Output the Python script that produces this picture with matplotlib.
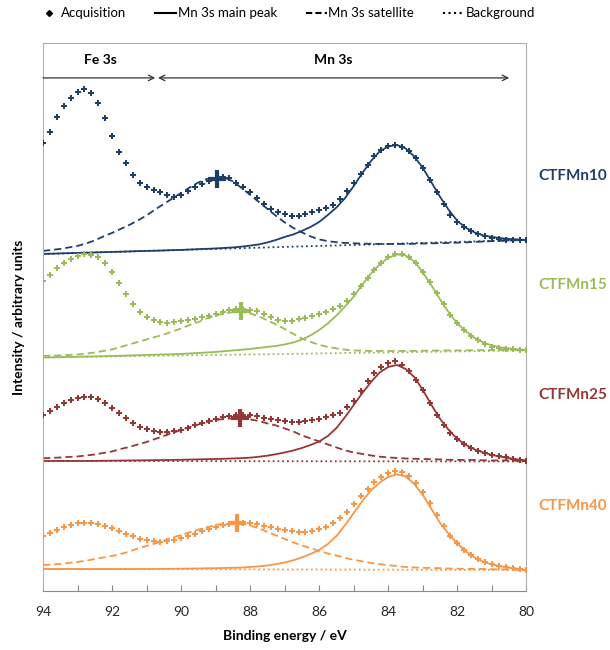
import numpy as np
import matplotlib.pyplot as plt
from matplotlib.lines import Line2D
from matplotlib.transforms import blended_transform_factory

plt.rcParams['font.family'] = ['Lato', 'DejaVu Sans']

# binding energy grids (eV)
energy_acq = np.round(np.arange(94.0, 79.95, -0.2), 2)
energy_fit = np.round(np.arange(94.0, 79.95, -0.25), 2)
energy_bg = [94.0, 80.0]

samples = ['CTFMn10', 'CTFMn15', 'CTFMn25', 'CTFMn40']

# measured spectra (arb. units, above each baseline)
acq_mn10 = [111, 122, 137, 148, 156, 162, 165, 161, 151, 136,
            118, 102, 91, 79, 71, 67, 64, 62, 59, 57,
            59, 63, 67, 70, 73, 76, 77, 76, 71, 67,
            62, 56, 50, 45, 42, 40, 38, 38, 40, 42,
            44, 46, 49, 55, 63, 71, 80, 89, 98, 104,
            108, 109, 107, 103, 96, 86, 74, 62, 50, 39,
            32, 27, 23, 20, 18, 16, 15, 14, 14, 14,
            14]
acq_mn15 = [76, 82, 89, 94, 98, 101, 103.5, 102.5, 100.8, 94,
            85, 74, 63, 53, 45, 40, 37, 35, 34, 35,
            36, 37, 38, 40, 41, 43, 45, 47, 48, 48,
            47, 46, 43, 40, 37, 36, 36, 38, 39, 41,
            43, 45, 48, 51, 56, 63, 71, 79, 87, 94,
            100, 103, 103, 100, 94, 85, 75, 64, 53, 42,
            34, 27, 21, 17, 13, 10, 9, 8, 8, 7.5,
            7.5]
acq_mn25 = [46, 50, 54, 58, 61, 63, 64, 63.5, 61.5, 58,
            53, 48, 43, 38, 34, 32, 30, 29, 29, 30,
            31, 33, 35.5, 37.5, 39.5, 41.5, 43.5, 45, 46, 46,
            45.5, 44.5, 43, 42, 40.5, 39.5, 39, 38.7, 39.5, 40.5,
            42, 43.5, 45.5, 48, 54, 60, 70, 80, 88, 94,
            98, 99.5, 96, 90, 81, 71, 58, 46, 36, 28,
            22, 17, 13, 9.5, 7.5, 6, 4.5, 3.5, 2, 1,
            0]
acq_mn40 = [33, 36, 39, 41.5, 44, 45.5, 46.3, 46, 45, 43,
            41, 38, 35, 32.5, 30, 28.5, 27.5, 26.8, 27.5, 29,
            31, 33, 35, 37.5, 40, 42, 43.5, 45, 45.5, 45.7,
            45.5, 44.5, 43, 41.5, 40.3, 39, 38, 37.3, 37.3, 38,
            40, 42.3, 46, 51, 57, 65, 73, 80, 86.5, 92,
            95.5, 97.8, 97, 92.5, 86, 77, 66, 54, 43, 33,
            25.5, 19, 14, 10, 7, 5, 3, 2, 1, 0,
            -1]

# fitted Mn 3s main peak (with background), 0.25 eV steps
main_mn10 = [0, 0.2, 0.5, 0.8, 1, 1.2, 1.5, 1.8,
             2, 2.2, 2.5, 2.8, 3, 3.2, 3.5, 3.8,
             4, 4.4, 4.8, 5.1, 5.5, 6, 6.5, 7.3,
             8.3, 9.5, 11.5, 14, 17, 19.5, 23, 27,
             32, 39, 46.5, 56, 68, 81, 93, 102.5,
             107.5, 109, 105.5, 97.5, 86, 71.5, 57, 44,
             33, 26, 21.5, 18.5, 17, 15.8, 15, 14.5,
             14]
main_mn15 = [0, 0.1, 0.3, 0.5, 0.7, 0.9, 1, 1.2,
             1.5, 1.7, 2, 2.2, 2.5, 2.7, 3, 3.2,
             3.5, 4, 4.5, 5, 5.5, 6.2, 7, 7.7,
             8.5, 9.5, 10.5, 11.5, 13, 15, 18, 22,
             27.5, 34, 42, 51, 61, 73, 84, 93,
             99.5, 103, 102, 96, 85, 72, 58, 45,
             34, 26, 19.5, 15, 12, 10, 9, 8,
             7.5]
main_mn25 = [0, 0, 0, 0, 0, 0, 0.1, 0.2,
             0.3, 0.4, 0.5, 0.6, 0.7, 0.8, 0.9, 1,
             1.2, 1.4, 1.6, 1.8, 2, 2.2, 2.5, 2.8,
             3.3, 4.2, 5.3, 6.8, 8.5, 10.5, 13, 16,
             19.5, 25, 33, 44, 56, 68, 79, 88.5,
             94, 96, 92, 84, 71, 56, 42, 31,
             22, 16, 11.5, 8.5, 6, 4.3, 2.8, 1.5,
             0.5]
main_mn40 = [0, 0, 0, 0, 0, 0, 0, 0,
             0, 0, 0, 0, 0, 0, 0.1, 0.2,
             0.3, 0.4, 0.5, 0.7, 0.8, 1, 1.2, 1.4,
             2, 2.6, 3.5, 4.8, 6.5, 8.8, 11.5, 15,
             19, 25, 33, 44, 56, 68, 78.5, 86.5,
             92, 94.7, 92.5, 85, 74, 60, 46, 35,
             25.5, 17.5, 11.5, 7.3, 4.5, 2.8, 1.2, 0,
             -1]

# fitted Mn 3s satellite (with background), 0.25 eV steps
sat_mn10 = [3, 4, 5, 6.5, 8, 10.5, 13.5, 17.5,
            21, 25, 29, 33.5, 38.5, 44.5, 50, 55.5,
            61, 66.5, 71.5, 75, 77.3, 76.5, 72.5, 66,
            59, 52, 45, 38, 31.5, 26, 21.5, 17.5,
            14.5, 12.8, 11.7, 11, 10.6, 10.3, 10.1, 10,
            10, 10, 10, 10.2, 10.4, 10.6, 10.8, 11,
            11.3, 11.6, 12, 12.4, 12.8, 13.1, 13.4, 13.7,
            14]
sat_mn15 = [1.5, 1.8, 2, 2.5, 3, 3.8, 5, 6.5,
            8, 10.5, 13, 15.5, 18, 20.5, 23, 26,
            29, 32.5, 35.5, 39, 42, 44, 45.3, 45.7,
            44, 41, 37, 33, 28.5, 23.5, 19, 15.5,
            12.5, 10.5, 9, 7.8, 7, 6.7, 6.5, 6.5,
            6.5, 6.5, 6.5, 6.6, 6.7, 6.8, 6.9, 7,
            7, 7.1, 7.2, 7.3, 7.4, 7.5, 7.5, 7.5,
            7.5]
sat_mn25 = [2.7, 3, 3.5, 4, 4.5, 5.5, 6.5, 8,
            9.5, 12, 14, 16.5, 19, 22, 25, 28,
            31, 34, 36.5, 39, 41, 42, 42.6, 42.5,
            41.5, 40, 37.5, 35.5, 32.5, 29.5, 25.5, 22.5,
            19.5, 16.5, 13.5, 10.5, 8.5, 7, 5.5, 4.3,
            3.5, 3, 2.5, 2.2, 2, 1.7, 1.5, 1.2,
            1, 1, 1, 0.7, 0.5, 0.5, 0.5, 0.2,
            0]
sat_mn40 = [4, 4.5, 5, 6, 7, 8.3, 10, 11.5,
            13, 15, 17.5, 20.5, 23, 25.5, 28.3, 31.5,
            34, 36.7, 39.3, 41.8, 44, 45.2, 45.7, 45.5,
            43.5, 40.5, 37, 33.5, 30, 26.5, 23.5, 20.8,
            18, 15.5, 13.5, 11, 9.2, 7.6, 6, 4.8,
            3.8, 2.9, 2, 1.5, 1.2, 1, 0.8, 0.5,
            0.3, 0.1, 0, 0, -0.2, -0.4, -0.5, -0.8,
            -1]

# linear background, start/end
bg_mn10 = [0, 14]
bg_mn15 = [0, 7]
bg_mn25 = [0, -0.5]
bg_mn40 = [0, -1]

# satellite maximum picked on each spectrum
sat_peak_energy = [88.95, 88.27, 88.3, 88.37]
sat_peak_height = [75, 46, 43, 46]

acq = [acq_mn10, acq_mn15, acq_mn25, acq_mn40]
main = [main_mn10, main_mn15, main_mn25, main_mn40]
sat = [sat_mn10, sat_mn15, sat_mn25, sat_mn40]
bg = [bg_mn10, bg_mn15, bg_mn25, bg_mn40]

# stacking offsets and label heights
offsets = [337, 233.5, 130, 22]
label_y = [415, 306, 196, 85]
colors = ['#1F3F6B', '#9BBB59', '#953735', '#F79646']

fig = plt.figure(figsize=(6.1, 6.5), dpi=100)
ax = fig.add_axes([0.0705, 0.0908, 0.7925, 0.8432])

for i in range(4):
    c = colors[i]
    off = offsets[i]
    ax.plot(energy_bg, np.array(bg[i]) + off, ls=':', lw=1.3, color=c, zorder=2)
    ax.plot(energy_fit, np.array(sat[i]) + off, ls=(0, (4, 2.2)), lw=1.3, color=c, zorder=2)
    ax.plot(energy_fit, np.array(main[i]) + off, ls='-', lw=1.3, color=c, zorder=2)
    ax.plot(energy_acq, np.array(acq[i]) + off, ls='none', marker='P', ms=5, mew=0,
            color=c, zorder=3)
    ax.plot(sat_peak_energy[i], sat_peak_height[i] + off, marker='+', ms=13, mew=3,
            color=c, zorder=4)

trans = blended_transform_factory(ax.transAxes, ax.transData)
for i in range(4):
    ax.text(1.095, label_y[i], samples[i], transform=trans, ha='center', va='center',
            fontsize=11, fontweight='bold', color=colors[i])

# Fe 3s / Mn 3s regions
ax.annotate('', xy=(90.75, 513), xytext=(94.0, 513),
            arrowprops=dict(arrowstyle='->', lw=0.9, color='#333333', shrinkA=0, shrinkB=0))
ax.annotate('', xy=(80.5, 513), xytext=(90.67, 513),
            arrowprops=dict(arrowstyle='<->', lw=0.9, color='#333333', shrinkA=0, shrinkB=0))
ax.text(92.35, 531, 'Fe 3s', ha='center', va='center', fontsize=10, fontweight='bold')
ax.text(85.6, 531, 'Mn 3s', ha='center', va='center', fontsize=10, fontweight='bold')

ax.set_xlim(94, 80)
ax.set_ylim(0, 548)
ax.set_xticks(np.arange(94, 79, -2))
ax.set_xticks(np.arange(94, 79, -1), minor=True)
ax.tick_params(axis='x', which='both', direction='in', length=4, width=0.8,
               color='#888888', labelsize=10, labelcolor='#262626', pad=11)
ax.set_yticks([])
for side in ['left', 'top', 'right']:
    ax.spines[side].set_color('#B0B0B0')
ax.spines['bottom'].set_color('#888888')

ax.set_xlabel('Binding energy / eV', fontsize=10, fontweight='bold')
ax.xaxis.set_label_coords(0.5, -0.071)
ax.set_ylabel('Intensity / arbitrary units', fontsize=10, fontweight='bold')
ax.yaxis.set_label_coords(-0.038, 0.5)

handles = [
    Line2D([], [], ls='none', marker='D', ms=3, color='black', label='Acquisition'),
    Line2D([], [], ls='-', lw=1.5, color='black', label='Mn 3s main peak'),
    Line2D([], [], ls=(0, (3, 1.5)), lw=1.5, color='black', label='Mn 3s satellite'),
    Line2D([], [], ls=':', lw=1.5, color='black', label='Background'),
]
fig.legend(handles=handles, loc='upper center', bbox_to_anchor=(0.47, 1.007), ncol=4,
           frameon=False, fontsize=9.5, handlelength=1.6, handletextpad=0.1,
           columnspacing=2.2)

plt.savefig('out.png', dpi=100)
